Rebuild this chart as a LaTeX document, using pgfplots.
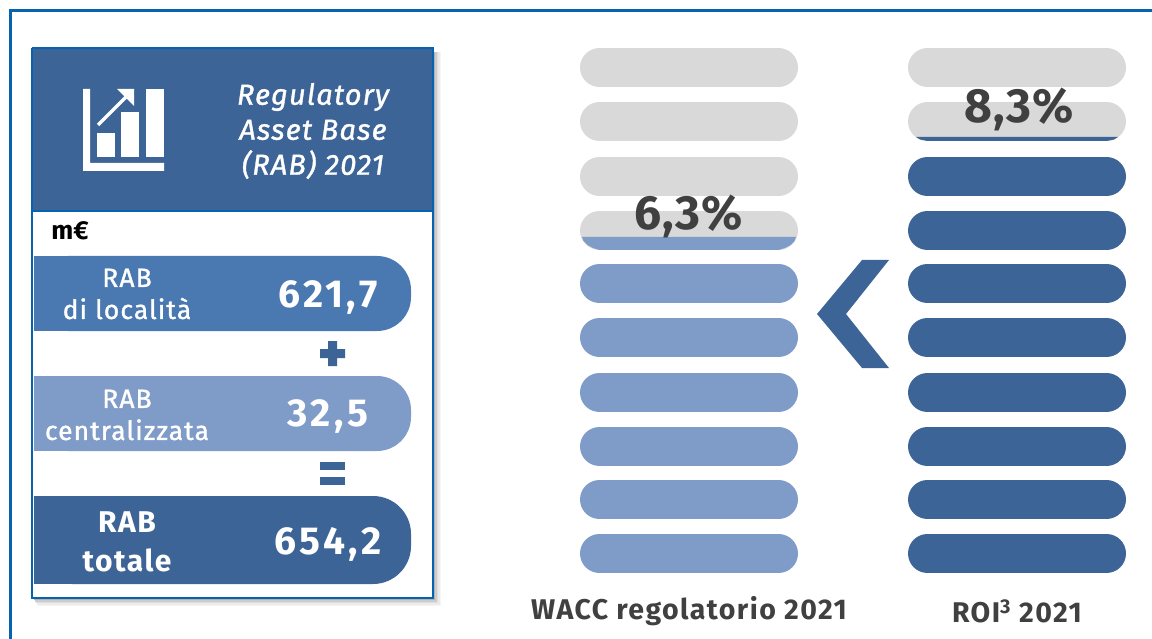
\documentclass[border=0pt]{standalone}
\usepackage{pgfplots}
\pgfplotsset{compat=1.18}
\usepackage{fontspec}
\setmainfont{Fira Sans}
\newfontfamily\spc[LetterSpace=5]{Fira Sans}
\newfontfamily\spn[LetterSpace=8]{Fira Sans}
\newfontfamily\spb[LetterSpace=2]{Fira Sans}
\newfontfamily\spm[LetterSpace=4,FakeBold=1.2]{Fira Sans}
\definecolor{dk}{HTML}{3D6496}
\definecolor{md}{HTML}{4A78B0}
\definecolor{lt}{HTML}{7F9BC8}
\definecolor{gy}{HTML}{D9D9D9}
\definecolor{fr}{HTML}{0563B0}
\definecolor{tx}{HTML}{404040}
\newcommand{\poly}[2]{\addplot[draw=none,fill=#1,forget plot] coordinates {#2} --cycle;}
\newcommand{\pill}[4]{\addplot[#4,line width=39pt,line cap=round,forget plot] coordinates {(#1,#3)(#2,#3)};}
\newcommand{\txt}[5]{\node[text=#1,font=#2,align=center,inner sep=0pt,anchor=center] at (axis cs:#3,#4) {#5};}
\begin{document}
\begin{tikzpicture}
\path[use as bounding box] (0,0) rectangle (1152pt,639pt);
\begin{axis}[at={(0,0)},anchor=south west,scale only axis,width=1152pt,height=639pt,xmin=0,xmax=1152,ymin=0,ymax=639,y dir=reverse,axis lines=none,clip=true]
% outer frame
\addplot[fr,line width=3pt,forget plot] coordinates {(10,639)(10,11)(1152,11)};
% card shadow
\poly{black!4}{(38,52)(441,52)(441,606)(38,606)}
\poly{black!8}{(37,52)(439.5,52)(439.5,604.5)(37,604.5)}
\poly{black!13}{(36,52)(438,52)(438,603)(36,603)}
\poly{black!20}{(35,52)(436.5,52)(436.5,601.5)(35,601.5)}
\poly{black!30}{(34,52)(435,52)(435,600)(34,600)}
\poly{white}{(32,48)(433,48)(433,598)(32,598)}
% card header
\poly{dk}{(32,48)(433,48)(433,211)(32,211)}
\addplot[fr,line width=2.6pt,forget plot] coordinates {(32,48)(433,48)(433,598)(32,598)(32,48)};
\addplot[fr,line width=2.6pt,forget plot] coordinates {(32,211)(433,211)};
% icon
\poly{white}{(83,89)(90,89)(90,163)(164,163)(164,171)(83,171)}
\poly{white}{(97,133)(115,133)(115,157)(97,157)}
\poly{white}{(121,112)(139,112)(139,157)(121,157)}
\poly{white}{(146,89)(164,89)(164,157)(146,157)}
\addplot[white,line width=3.4pt,forget plot] coordinates {(98,125)(131,92)};
\poly{white}{(134,89)(134,106)(117,89)}
% RAB pills
\addplot[draw=none,fill=md,rounded corners=34pt,forget plot] coordinates {(34,256)(411,256)(411,331)(34,331)} --cycle;
\poly{md}{(34,256)(200,256)(200,331)(34,331)}
\addplot[draw=none,fill=lt,rounded corners=34pt,forget plot] coordinates {(34,376)(411,376)(411,451)(34,451)} --cycle;
\poly{lt}{(34,376)(200,376)(200,451)(34,451)}
\addplot[draw=none,fill=dk,rounded corners=38pt,forget plot] coordinates {(34,496)(411,496)(411,584)(34,584)} --cycle;
\poly{dk}{(34,496)(200,496)(200,584)(34,584)}
% plus and equals
\poly{dk}{(328,341)(337,341)(337,349)(345,349)(345,358)(337,358)(337,366)(328,366)(328,358)(320,358)(320,349)(328,349)}
\poly{dk}{(320,462)(345,462)(345,470)(320,470)}
\poly{dk}{(320,477)(345,477)(345,485)(320,485)}
% WACC column
\pill{599.5}{778.5}{67.5}{gy}
\pill{599.5}{778.5}{121.5}{gy}
\pill{599.5}{778.5}{176.5}{gy}
\pill{599.5}{778.5}{230.5}{gy}
\poly{lt}{(582,237)(796,237)(794.5,241)(790.5,245)(785,248)(778.5,250)(599.5,250)(593,248)(587.5,245)(583.5,241)}
\pill{599.5}{778.5}{283.5}{lt}
\pill{599.5}{778.5}{337.5}{lt}
\pill{599.5}{778.5}{392.5}{lt}
\pill{599.5}{778.5}{446.5}{lt}
\pill{599.5}{778.5}{499.5}{lt}
\pill{599.5}{778.5}{553.5}{lt}
% ROI column
\pill{927.5}{1106.5}{67.5}{gy}
\pill{927.5}{1106.5}{121.5}{gy}
\poly{dk}{(916,137)(1118,137)(1114,139.5)(1106.5,141)(927.5,141)(920,139.5)}
\pill{927.5}{1106.5}{176.5}{dk}
\pill{927.5}{1106.5}{230.5}{dk}
\pill{927.5}{1106.5}{283.5}{dk}
\pill{927.5}{1106.5}{337.5}{dk}
\pill{927.5}{1106.5}{392.5}{dk}
\pill{927.5}{1106.5}{446.5}{dk}
\pill{927.5}{1106.5}{499.5}{dk}
\pill{927.5}{1106.5}{553.5}{dk}
% chevron
\poly{dk}{(817,314)(862,260)(889,260)(846,314)(889,368)(862,368)}
% texts
\txt{white}{\fontsize{29}{35}\selectfont\spm\itshape}{313}{131}{Regulatory\\Asset Base\\(RAB) 2021}
\txt{black}{\fontsize{26}{25}\selectfont\bfseries}{70}{231}{m€}
\txt{white}{\fontsize{26.5}{32}\selectfont\spm}{127}{294}{RAB\\di località}
\txt{white}{\fontsize{39}{40}\selectfont\bfseries\spn}{328}{297}{621,7}
\txt{white}{\fontsize{26.5}{32}\selectfont\spm}{127}{415}{RAB\\centralizzata}
\txt{white}{\fontsize{39}{40}\selectfont\bfseries\spn}{328}{416}{32,5}
\txt{white}{\fontsize{30}{39}\selectfont\bfseries\spc}{127}{542}{RAB\\totale}
\txt{white}{\fontsize{39}{40}\selectfont\bfseries\spn}{328}{544}{654,2}
\txt{tx}{\fontsize{48}{50}\selectfont\bfseries\spb}{689}{216}{6,3\%}
\txt{tx}{\fontsize{48}{50}\selectfont\bfseries\spb}{1019}{109}{8,3\%}
\txt{tx}{\fontsize{28.5}{30}\selectfont\bfseries\spc}{689}{611}{WACC regolatorio 2021}
\txt{tx}{\fontsize{28.5}{30}\selectfont\bfseries\spc}{1017}{611}{ROI\textsuperscript{3} 2021}
\end{axis}
\end{tikzpicture}
\end{document}
